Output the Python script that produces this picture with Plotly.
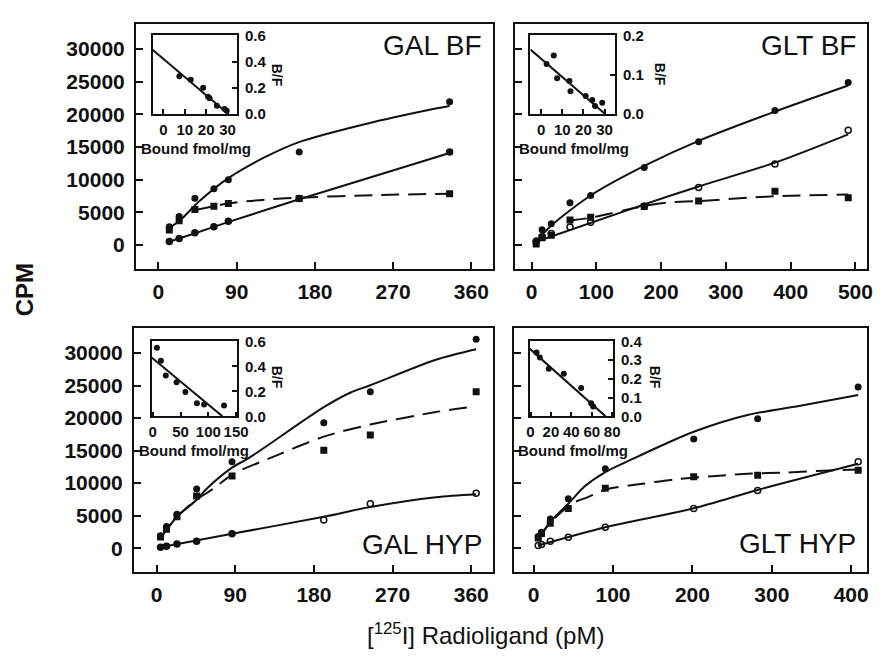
import plotly.graph_objects as go

W, H = 882, 665

# ---------------- data ----------------
# GAL BF
galbf_conc = [12.5, 23.8, 41.9, 63.8, 80.4, 161.9, 335]
galbf_total = [2790, 4380, 7160, 8600, 10000, 14230, 21940]
galbf_spec = [2290, 3700, 5420, 5920, 6370, 7110, 7860]
galbf_ns = [550, 1000, 1890, 2790, 3630, 7110, 14230]
galbf_fit_total_x = [12.5, 24.9, 47.5, 80.4, 123, 160.8, 236, 319, 335]
galbf_fit_total_y = [2600, 3780, 6770, 10250, 13480, 15720, 18460, 20900, 21300]
galbf_fit_spec_x = [40, 80, 123, 162, 250, 335]
galbf_fit_spec_y = [5300, 6350, 6950, 7250, 7650, 7850]
galbf_fit_ns_x = [12.5, 42, 80, 162, 250, 335]
galbf_fit_ns_y = [500, 1800, 3500, 7000, 10600, 14100]

# GLT BF
gltbf_conc = [7.1, 16.2, 30.4, 59.3, 91.2, 174, 257.9, 375.8, 488.9]
gltbf_total = [650, 2350, 3240, 6480, 7580, 11870, 15800, 20580, 24870]
gltbf_spec = [150, 1100, 1500, 3840, 4240, 5890, 6730, 8220, 7230]
gltbf_ns = [500, 1250, 1750, 2750, 3500, 5980, 8820, 12410, 17590]
gltbf_fit_total_x = [7, 30.4, 91.2, 174, 257.9, 375.8, 488.9]
gltbf_fit_total_y = [500, 2990, 7580, 12110, 15950, 20430, 24420]
gltbf_fit_spec_x = [57, 89, 174, 208.7, 257.9, 375.8, 488.9]
gltbf_fit_spec_y = [3740, 4140, 5980, 6490, 6730, 7470, 7730]
gltbf_fit_ns_x = [7, 174, 257.9, 375.8, 488.9]
gltbf_fit_ns_y = [500, 6230, 8970, 12610, 16950]

# GAL HYP
galhyp_conc = [4.5, 11.3, 23.3, 45.8, 86.3, 191.3, 244.5, 365.6]
galhyp_total = [1910, 3320, 5230, 9100, 13270, 19260, 24030, 32130]
galhyp_spec = [1710, 2910, 4830, 8000, 11110, 15040, 17400, 24030]
galhyp_ns = [150, 300, 650, 1060, 2210, 4330, 6840, 8450]
galhyp_fit_total_x = [4.5, 23.3, 45.8, 57, 86.3, 105.8, 191.3, 222, 244.5, 319.5, 365.6]
galhyp_fit_total_y = [1560, 4830, 7440, 9100, 12370, 13880, 21670, 23930, 25040, 28960, 30570]
galhyp_fit_spec_x = [4.5, 23.3, 45.8, 64.5, 87, 139.5, 191.3, 244.5, 319.5, 358]
galhyp_fit_spec_y = [1560, 4830, 7440, 9100, 11360, 14370, 17150, 19000, 20920, 21670]
galhyp_fit_ns_x = [4.5, 86.3, 191.3, 244.5, 319.5, 365.6]
galhyp_fit_ns_y = [150, 2210, 4830, 6330, 7840, 8300]

# GLT HYP
glthyp_conc = [5.8, 9.9, 21, 43.7, 90.3, 201.7, 282.2, 408.8]
glthyp_total = [1810, 2460, 4480, 7590, 12220, 16790, 19910, 24780]
glthyp_spec = [1560, 2260, 3820, 6080, 9200, 10970, 11210, 11960]
glthyp_ns = [400, 560, 1060, 1660, 3210, 6080, 8850, 13270]
glthyp_fit_total_x = [5.8, 21, 43.7, 64.4, 90.3, 126.3, 163.4, 201.7, 270.7, 332.5, 408.8]
glthyp_fit_total_y = [1310, 4070, 6830, 9500, 11700, 13800, 15900, 17900, 20500, 21800, 23530]
glthyp_fit_spec_x = [5.8, 21, 37.5, 52, 68.4, 93.2, 134.5, 179.8, 229.3, 275, 316, 357.3, 408.8]
glthyp_fit_spec_y = [1400, 3900, 5840, 7090, 7840, 9100, 9850, 10600, 11110, 11460, 11610, 11870, 12100]
glthyp_fit_ns_x = [5.8, 90.3, 201.7, 282.2, 408.8]
glthyp_fit_ns_y = [400, 3210, 6130, 8950, 12970]

# Scatchard insets (Bound fmol/mg vs B/F)
ins1_bound = [7.5, 12.8, 18.6, 20.9, 21.6, 25.0, 28.6, 29.6]
ins1_bf = [0.289, 0.262, 0.202, 0.133, 0.122, 0.064, 0.039, 0.027]
ins1_line_x = [-5, 30.5]
ins1_line_y = [0.49, 0.0]

ins2_bound = [2.6, 6.0, 7.6, 13.4, 13.9, 21.1, 24.2, 25.5, 28.9]
ins2_bf = [0.127, 0.149, 0.091, 0.084, 0.058, 0.046, 0.036, 0.021, 0.029]
ins2_line_x = [-5, 30.4]
ins2_line_y = [0.164, 0.0]

ins3_bound = [7.6, 14.7, 23.5, 42.9, 58.8, 79.5, 92.4, 128.3]
ins3_bf = [0.548, 0.444, 0.327, 0.273, 0.195, 0.104, 0.094, 0.086]
ins3_line_x = [-2, 125.4]
ins3_line_y = [0.47, 0.0]

ins4_bound = [5.9, 9.1, 17.9, 32.6, 49.6, 59.4, 61.4]
ins4_bf = [0.34, 0.314, 0.253, 0.227, 0.151, 0.069, 0.052]
ins4_line_x = [-1, 73.5]
ins4_line_y = [0.361, 0.0]

main_yticks = [0, 5000, 10000, 15000, 20000, 25000, 30000]
main_ytick_labels = ["0", "5000", "10000", "15000", "20000", "25000", "30000"]
gal_xticks = [0, 90, 180, 270, 360]
gltbf_xticks = [0, 100, 200, 300, 400, 500]
glthyp_xticks = [0, 100, 200, 300, 400]

# ---------------- styling / layout ----------------
FONT = "Arial, Liberation Sans, Helvetica, sans-serif"
INK = "#111111"
DASH = "18px,9px"


def dx(a, b):
    return [a / W, b / W]


def dy(top, bottom):
    return [1 - bottom / H, 1 - top / H]


fig = go.Figure()


def add_panel(k, conc, total, spec, ns, ftx, fty, fsx, fsy, fnx, fny, ns_symbols):
    xa = "x" if k == 1 else f"x{k}"
    ya = "y" if k == 1 else f"y{k}"
    line = dict(color=INK, width=2, shape="spline", smoothing=0.8)
    fig.add_trace(go.Scatter(x=ftx, y=fty, mode="lines", line=line, xaxis=xa, yaxis=ya))
    fig.add_trace(go.Scatter(x=fnx, y=fny, mode="lines", line=line, xaxis=xa, yaxis=ya))
    fig.add_trace(go.Scatter(x=fsx, y=fsy, mode="lines",
                             line=dict(color=INK, width=2, dash=DASH, shape="spline", smoothing=0.8),
                             xaxis=xa, yaxis=ya))
    fig.add_trace(go.Scatter(x=conc, y=total, mode="markers",
                             marker=dict(symbol="circle", size=7, color=INK), xaxis=xa, yaxis=ya))
    fig.add_trace(go.Scatter(x=conc, y=spec, mode="markers",
                             marker=dict(symbol="square", size=7, color=INK), xaxis=xa, yaxis=ya))
    fig.add_trace(go.Scatter(x=conc, y=ns, mode="markers",
                             marker=dict(symbol=ns_symbols, size=6, color=INK,
                                         line=dict(color=INK, width=1.5)),
                             xaxis=xa, yaxis=ya))


add_panel(1, galbf_conc, galbf_total, galbf_spec, galbf_ns,
          galbf_fit_total_x, galbf_fit_total_y, galbf_fit_spec_x, galbf_fit_spec_y,
          galbf_fit_ns_x, galbf_fit_ns_y, "circle")
add_panel(2, gltbf_conc, gltbf_total, gltbf_spec, gltbf_ns,
          gltbf_fit_total_x, gltbf_fit_total_y, gltbf_fit_spec_x, gltbf_fit_spec_y,
          gltbf_fit_ns_x, gltbf_fit_ns_y, "circle-open")
add_panel(3, galhyp_conc, galhyp_total, galhyp_spec, galhyp_ns,
          galhyp_fit_total_x, galhyp_fit_total_y, galhyp_fit_spec_x, galhyp_fit_spec_y,
          galhyp_fit_ns_x, galhyp_fit_ns_y,
          ["circle"] * 5 + ["circle-open"] * 3)
add_panel(4, glthyp_conc, glthyp_total, glthyp_spec, glthyp_ns,
          glthyp_fit_total_x, glthyp_fit_total_y, glthyp_fit_spec_x, glthyp_fit_spec_y,
          glthyp_fit_ns_x, glthyp_fit_ns_y, "circle-open")


def add_inset(k, bx, by, lx, ly):
    xa, ya = f"x{k}", f"y{k}"
    fig.add_trace(go.Scatter(x=lx, y=ly, mode="lines", line=dict(color=INK, width=2),
                             xaxis=xa, yaxis=ya))
    fig.add_trace(go.Scatter(x=bx, y=by, mode="markers",
                             marker=dict(symbol="circle", size=6, color=INK),
                             xaxis=xa, yaxis=ya, cliponaxis=False))


add_inset(5, ins1_bound, ins1_bf, ins1_line_x, ins1_line_y)
add_inset(6, ins2_bound, ins2_bf, ins2_line_x, ins2_line_y)
add_inset(7, ins3_bound, ins3_bf, ins3_line_x, ins3_line_y)
add_inset(8, ins4_bound, ins4_bf, ins4_line_x, ins4_line_y)

tick_font = dict(family=FONT, size=21, color=INK, weight="bold")
inset_font = dict(family=FONT, size=15, color=INK, weight="bold")


def main_x(dom, rng, ticks, anchor):
    return dict(domain=dom, range=rng, tickvals=ticks, ticks="inside", ticklen=7, tickwidth=1.6,
                tickcolor=INK, showline=True, mirror=True, linewidth=1.8, linecolor=INK,
                showgrid=False, zeroline=False, tickfont=tick_font, anchor=anchor,
                ticklabelstandoff=3)


def main_y(dom, labels, anchor):
    return dict(domain=dom, range=[-3700, 33900], tickvals=main_yticks, ticktext=main_ytick_labels,
                ticks="inside", ticklen=7,
                tickwidth=1.6, tickcolor=INK, showline=True, mirror=True, linewidth=1.8,
                linecolor=INK, showgrid=False, zeroline=False, tickfont=tick_font,
                showticklabels=labels, anchor=anchor, ticklabelstandoff=5)


def inset_x(dom, rng, dt, anchor):
    return dict(domain=dom, range=rng, dtick=dt, tick0=0, ticks="inside", ticklen=5, tickwidth=1.5,
                tickcolor=INK, showline=True, mirror=True, linewidth=1.6, linecolor=INK,
                showgrid=False, zeroline=False, tickfont=inset_font, anchor=anchor,
                ticklabelstandoff=1)


def inset_y(dom, rng, dt, anchor):
    return dict(domain=dom, range=rng, dtick=dt, tick0=0, tickformat=".1f", side="right",
                ticks="inside", ticklen=5, tickwidth=1.5, tickcolor=INK, showline=True, mirror=True,
                linewidth=1.6, linecolor=INK, showgrid=False, zeroline=False, tickfont=inset_font,
                anchor=anchor, ticklabelstandoff=3)


top_dom = dy(15, 267)
bot_dom = dy(327, 578)
ins_top = dy(27, 108)
ins_bot = dy(341, 418)

fig.update_layout(
    width=W, height=H,
    margin=dict(l=0, r=0, t=0, b=0),
    paper_bgcolor="white", plot_bgcolor="white",
    showlegend=False,
    font=dict(family=FONT, color=INK),
    xaxis=main_x(dx(135, 498), [-26, 385], gal_xticks, "y"),
    yaxis=main_y(top_dom, True, "x"),
    xaxis2=main_x(dx(520, 878), [-26, 518], gltbf_xticks, "y2"),
    yaxis2=main_y(top_dom, False, "x2"),
    xaxis3=main_x(dx(133, 498), [-26, 385], gal_xticks, "y3"),
    yaxis3=main_y(bot_dom, True, "x3"),
    xaxis4=main_x(dx(519, 878), [-25, 420], glthyp_xticks, "y4"),
    yaxis4=main_y(bot_dom, False, "x4"),
    xaxis5=inset_x(dx(152, 238), [-5, 34.5], 10, "y5"),
    yaxis5=inset_y(ins_top, [0, 0.6], 0.2, "x5"),
    xaxis6=inset_x(dx(536, 622), [-5, 35], 10, "y6"),
    yaxis6=inset_y(ins_top, [0, 0.2], 0.1, "x6"),
    xaxis7=inset_x(dx(151, 238), [-2, 152], 50, "y7"),
    yaxis7=inset_y(ins_bot, [0, 0.6], 0.2, "x7"),
    xaxis8=inset_x(dx(535, 620), [-1, 81], 20, "y8"),
    yaxis8=inset_y(ins_bot, [0, 0.4], 0.1, "x8"),
)


def ann(text, px, py, size, xanchor="center", angle=0, weight="normal"):
    fig.add_annotation(text=text, x=px / W, y=1 - py / H, xref="paper", yref="paper",
                       showarrow=False, xanchor=xanchor, yanchor="middle", textangle=angle,
                       font=dict(family=FONT, size=size, color=INK, weight=weight))


# panel titles
ann("GAL BF", 489, 37, 28, "right")
ann("GLT BF", 869, 37, 28, "right")
ann("GAL HYP", 489, 550, 28, "right")
ann("GLT HYP", 869, 549, 28, "right")

# inset axis titles
for cx, cy in [(196, 143), (580, 143), (194, 453), (579, 453)]:
    ann("Bound fmol/mg", cx, cy, 15, weight="bold")
for cx, cy in [(278, 68), (667, 67), (278, 378), (662, 378)]:
    ann("B/F", cx, cy, 14, angle=90, weight="bold")

# global axis titles
ann("CPM", 22, 288, 24, angle=-90, weight="bold")
ann("[<sup>125</sup>I] Radioligand (pM)", 490, 641, 24)

fig.write_html(
    "out.html",
    config={"displayModeBar": False},
    post_script="document.body.style.margin='0';document.body.style.overflow='hidden';",
)
